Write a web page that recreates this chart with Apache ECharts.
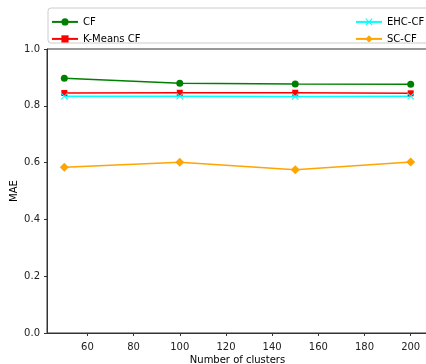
<!DOCTYPE html>
<style>
body {margin: 0;}
#div_echart {height: 364px; width: 426px;}
</style>
<script src='https://cdn.jsdelivr.net/npm/echarts@6/dist/echarts.min.js'></script>
<div id='div_echart'></div>
<script>
let clusters = [50, 100, 150, 200]
let cf = [0.897, 0.879, 0.877, 0.876]
let kmeans_cf = [0.845, 0.846, 0.846, 0.844]
let ehc_cf = [0.834, 0.834, 0.833, 0.834]
let sc_cf = [0.584, 0.601, 0.575, 0.602]
let x_ticks = [60, 80, 100, 120, 140, 160, 180, 200]

let x_symbol = 'path://M0,1L1,0L5,4L9,0L10,1L6,5L10,9L9,10L5,6L1,10L0,9L4,5Z'
let font = 'DejaVu Sans'

function pairs(values) {
	return clusters.map((c, i) => [c, values[i]])
}
function line(name, values, color, symbol, size) {
	return {
		name, type: 'line', data: pairs(values), color,
		symbol, symbolSize: size, lineStyle: {width: 1.5, color},
		itemStyle: {color}, emphasis: {disabled: true}, z: 3
	}
}
function legend_item(name, left, top) {
	return {
		data: [name], left, top, padding: 0, itemWidth: 26, itemHeight: 9, itemGap: 0,
		textStyle: {fontFamily: font, fontSize: 10, color: '#000'}
	}
}

let echart = echarts.init(document.getElementById('div_echart'))
echart.setOption({
	animation: false,
	graphic: [{
		type: 'rect', shape: {x: 48, y: 8, width: 390, height: 35, r: 3},
		style: {fill: '#fff', stroke: '#ccc', lineWidth: 1}, z: 0
	}],
	legend: [
		legend_item('CF', 51, 12),
		legend_item('K-Means CF', 51, 29),
		legend_item('EHC-CF', 355, 12),
		legend_item('SC-CF', 355, 29)
	],
	grid: {left: 47, top: 49, bottom: 31, width: 381, outerBoundsMode: 'none', containLabel: false,
		show: true, borderColor: '#333', borderWidth: 1},
	xAxis: {
		type: 'value', min: 42.5, max: 207.5,
		name: 'Number of clusters', nameLocation: 'middle', nameGap: 17, nameMoveOverlap: false,
		nameTextStyle: {fontFamily: font, fontSize: 10, color: '#000'},
		axisLine: {show: true, lineStyle: {color: '#333'}},
		axisTick: {show: true, length: 3, customValues: x_ticks, lineStyle: {color: '#333'}},
		axisLabel: {customValues: x_ticks, fontFamily: font, fontSize: 10, color: '#222', margin: 4},
		splitLine: {show: false}
	},
	yAxis: {
		type: 'value', min: 0, max: 1, interval: 0.2,
		name: 'MAE', nameLocation: 'middle', nameGap: 23, nameMoveOverlap: false,
		nameTextStyle: {fontFamily: font, fontSize: 10, color: '#000'},
		axisLine: {show: true, lineStyle: {color: '#333'}},
		axisTick: {show: true, length: 3, lineStyle: {color: '#333'}},
		axisLabel: {fontFamily: font, fontSize: 10, color: '#222', margin: 7, formatter: v => v.toFixed(1)},
		splitLine: {show: false}
	},
	series: [
		line('CF', cf, 'green', 'circle', 7),
		line('K-Means CF', kmeans_cf, 'red', 'rect', 6),
		line('EHC-CF', ehc_cf, 'cyan', x_symbol, 7),
		line('SC-CF', sc_cf, 'orange', 'diamond', 9)
	]
})
</script>
